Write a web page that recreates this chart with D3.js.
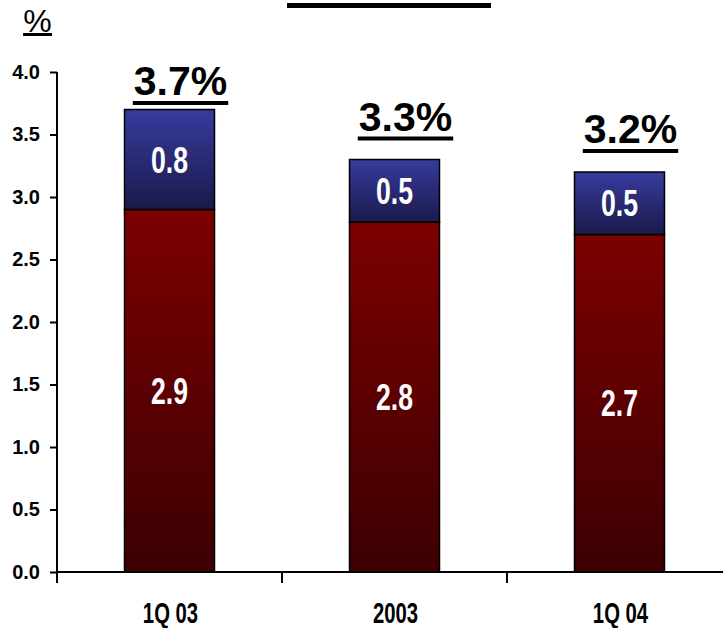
<!DOCTYPE html>
<html>
<head>
<meta charset="utf-8">
<script src="https://cdn.jsdelivr.net/npm/d3@7"></script>
<style>
  body { margin: 0; background: #fff; }
  svg { display: block; font-family: "Liberation Sans", Arial, sans-serif; }
</style>
</head>
<body>
<svg id="chart" width="723" height="628"></svg>
<script>
const categories = ["1Q 03", "2003", "1Q 04"];
const baseValues = [2.9, 2.8, 2.7];
const topValues = [0.8, 0.5, 0.5];
const totalLabels = ["3.7%", "3.3%", "3.2%"];
const yTicks = [0, 0.5, 1.0, 1.5, 2.0, 2.5, 3.0, 3.5, 4.0];

const svg = d3.select("#chart");
const margin = { left: 57, top: 72, bottom: 56 };
const height = 628 - margin.top - margin.bottom;

const x = d3.scaleBand().domain(categories).range([margin.left, margin.left + 675]).paddingInner(0.6).paddingOuter(0.3);
const y = d3.scaleLinear().domain([0, 4]).range([margin.top + height, margin.top]);

// gradients
const defs = svg.append("defs");
function grad(id, c1, c2) {
  const g = defs.append("linearGradient").attr("id", id).attr("x1", 0).attr("y1", 0).attr("x2", 0).attr("y2", 1);
  g.append("stop").attr("offset", "0%").attr("stop-color", c1);
  g.append("stop").attr("offset", "100%").attr("stop-color", c2);
}
grad("gRed", "#7c0000", "#3c0003");
grad("gBlue", "#373b9e", "#1a1a4a");

// condensed text helper
function ctext(g, tx, ty, str, size, sx, anchor) {
  return g.append("text")
    .attr("transform", "translate(" + tx + "," + ty + ") scale(" + sx + ",1)")
    .attr("text-anchor", anchor || "middle")
    .attr("font-size", size)
    .attr("font-weight", "bold")
    .text(str);
}

// top rule
svg.append("rect").attr("x", 287).attr("y", 3).attr("width", 204).attr("height", 5).attr("fill", "#000");

// unit label
svg.append("text").attr("x", 37.5).attr("y", 32).attr("text-anchor", "middle")
  .attr("font-size", 32).text("%");
svg.append("rect").attr("x", 23).attr("y", 33).attr("width", 29).attr("height", 3).attr("fill", "#000");

const data = categories.map((c, i) => ({ cat: c, base: baseValues[i], top: topValues[i], label: totalLabels[i] }));
const bw = x.bandwidth();

// bars
const bars = svg.append("g");
bars.selectAll(".base").data(data).enter().append("rect")
  .attr("x", d => x(d.cat)).attr("width", bw)
  .attr("y", d => y(d.base)).attr("height", d => y(0) - y(d.base))
  .attr("fill", "url(#gRed)").attr("stroke", "#000").attr("stroke-width", 1.5);
bars.selectAll(".top").data(data).enter().append("rect")
  .attr("x", d => x(d.cat)).attr("width", bw)
  .attr("y", d => y(d.base + d.top)).attr("height", d => y(d.base) - y(d.base + d.top))
  .attr("fill", "url(#gBlue)").attr("stroke", "#000").attr("stroke-width", 1.5);

// segment labels
data.forEach(d => {
  const cx = x(d.cat) + bw / 2;
  ctext(svg, cx, (y(0) + y(d.base)) / 2 + 13, d.base.toFixed(1), 37, 0.72).attr("fill", "#fff");
  ctext(svg, cx, (y(d.base) + y(d.base + d.top)) / 2 + 13, d.top.toFixed(1), 37, 0.72).attr("fill", "#fff");
});

// total labels, underlined
data.forEach(d => {
  const cx = x(d.cat) + bw / 2 + 11;
  const by = Math.max(y(d.base + d.top) - 29, 95);
  const t = svg.append("text").attr("x", cx).attr("y", by).attr("text-anchor", "middle")
    .attr("font-size", 41).attr("font-weight", "bold").text(d.label);
  const w = t.node().getComputedTextLength();
  svg.append("rect").attr("x", cx - w / 2 - 1).attr("y", by + 6).attr("width", w + 2).attr("height", 4).attr("fill", "#000");
});

// y axis
const yAxis = svg.append("g").attr("transform", "translate(" + margin.left + ",0)")
  .call(d3.axisLeft(y).tickValues(yTicks).tickFormat(d3.format(".1f")).tickSize(7).tickPadding(10));
yAxis.select(".domain").attr("stroke", "#000").attr("stroke-width", 2).attr("d", "M0," + y(4) + "V" + y(0));
yAxis.selectAll(".tick line").attr("stroke", "#000").attr("stroke-width", 2);
yAxis.selectAll(".tick text").attr("font-size", 20).attr("font-weight", "bold").attr("font-family", "Liberation Sans, Arial, sans-serif").attr("fill", "#000");

// x axis
const xAxis = svg.append("g").attr("transform", "translate(0," + y(0) + ")");
xAxis.append("line").attr("x1", margin.left).attr("x2", 723).attr("stroke", "#000").attr("stroke-width", 2);
const step = x.step();
xAxis.selectAll(".xt").data(categories).enter().append("line")
  .attr("x1", (c) => x(c) + bw / 2 - step / 2).attr("x2", (c) => x(c) + bw / 2 - step / 2)
  .attr("y1", 0).attr("y2", 11).attr("stroke", "#000").attr("stroke-width", 2);
categories.forEach(c => {
  ctext(svg, x(c) + bw / 2 + 1, y(0) + 51, c, 29, 0.7);
});
</script>
</body>
</html>
